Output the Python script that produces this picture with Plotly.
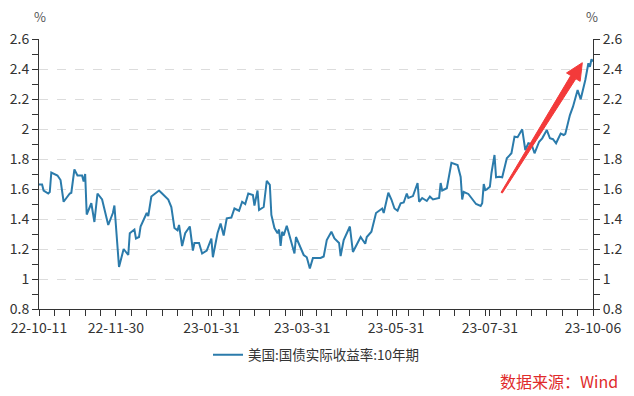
import pandas as pd
import plotly.graph_objects as go

start_date = "2022-10-11"
# day offsets from start date and 10Y real yield (%)
day_offsets = [0, 2, 3, 6, 7, 8, 12, 14, 16, 20, 21, 23, 25, 28, 29, 30, 31, 34, 36, 38,
               41, 44, 45, 48, 49, 52, 55, 58, 59, 62, 63, 65, 66, 70, 71, 73, 78, 80, 84, 86,
               88, 90, 91, 93, 95, 98, 100, 101, 104, 106, 109, 112, 113, 116, 118, 120, 122, 125, 127, 130,
               132, 134, 136, 139, 140, 142, 143, 146, 148, 150, 151, 153, 155, 156, 157, 158, 159, 161, 163, 164,
               166, 167, 170, 172, 174, 176, 178, 183, 185, 186, 187, 190, 192, 195, 196, 198, 202, 204, 209, 210,
               212, 213, 216, 219, 222, 223, 224, 227, 229, 231, 233, 235, 237, 239, 240, 243, 246, 247, 249, 252,
               254, 256, 260, 261, 262, 265, 268, 270, 272, 274, 275, 276, 279, 281, 284, 287, 288, 289, 290, 291,
               293, 294, 296, 297, 299, 301, 304, 307, 309, 311, 314, 316, 318, 320, 322, 325, 327, 330, 332, 334,
               336, 339, 341, 342, 344, 345, 347, 350, 352, 355, 357, 358, 359, 360]
real_yield = [1.63, 1.63, 1.59, 1.57, 1.58, 1.71, 1.69, 1.66, 1.515, 1.57, 1.575, 1.73, 1.69, 1.69, 1.65, 1.70, 1.43, 1.505, 1.38, 1.57,
              1.53, 1.39, 1.36, 1.44, 1.49, 1.08, 1.20, 1.16, 1.305, 1.33, 1.27, 1.28, 1.35, 1.44, 1.42, 1.55, 1.59, 1.57, 1.53, 1.48,
              1.34, 1.325, 1.36, 1.22, 1.305, 1.35, 1.19, 1.24, 1.24, 1.17, 1.19, 1.27, 1.145, 1.305, 1.37, 1.29, 1.405, 1.41, 1.47, 1.455,
              1.515, 1.50, 1.57, 1.56, 1.49, 1.59, 1.46, 1.48, 1.655, 1.627, 1.427, 1.34, 1.305, 1.33, 1.22, 1.315, 1.29, 1.355, 1.28, 1.24,
              1.17, 1.28, 1.205, 1.16, 1.145, 1.07, 1.14, 1.14, 1.15, 1.215, 1.26, 1.315, 1.27, 1.24, 1.153, 1.26, 1.35, 1.18, 1.28, 1.265,
              1.235, 1.28, 1.315, 1.44, 1.465, 1.47, 1.44, 1.575, 1.53, 1.47, 1.455, 1.505, 1.51, 1.57, 1.54, 1.553, 1.64, 1.515, 1.54, 1.52,
              1.55, 1.53, 1.54, 1.64, 1.59, 1.605, 1.775, 1.77, 1.76, 1.68, 1.53, 1.58, 1.567, 1.54, 1.50, 1.487, 1.505, 1.633, 1.593, 1.598,
              1.615, 1.705, 1.827, 1.678, 1.682, 1.678, 1.805, 1.838, 1.949, 1.945, 1.998, 1.86, 1.905, 1.90, 1.838, 1.915, 1.938, 1.993, 1.938, 1.932,
              1.905, 1.97, 1.96, 1.967, 2.06, 2.093, 2.149, 2.26, 2.198, 2.327, 2.438, 2.415, 2.465, 2.45]

x_label_dates = ["2022-10-11", "2022-11-30", "2023-01-31", "2023-03-31", "2023-05-31", "2023-07-31", "2023-10-06"]
x_label_text = ["22-10-11", "22-11-30", "23-01-31", "23-03-31", "23-05-31", "23-07-31", "23-10-06"]
y_ticks = [0.8, 1.0, 1.2, 1.4, 1.6, 1.8, 2.0, 2.2, 2.4, 2.6]
y_tick_text = ["0.8", "1", "1.2", "1.4", "1.6", "1.8", "2", "2.2", "2.4", "2.6"]
series_name = "美国:国债实际收益率:10年期"
source_text = "数据来源：Wind"

dates = pd.Timestamp(start_date) + pd.to_timedelta(day_offsets, unit="D")

FONT = "Noto Sans CJK SC, Noto Sans, sans-serif"
LINE_COLOR = "#2b7bab"
AXIS_COLOR = "#333333"

fig = go.Figure()
fig.add_trace(go.Scatter(x=dates, y=real_yield, mode="lines", name=series_name,
                         line=dict(color=LINE_COLOR, width=2)))
fig.add_trace(go.Scatter(x=dates, y=real_yield, mode="lines", yaxis="y2", showlegend=False,
                         line=dict(color=LINE_COLOR, width=2), opacity=0, hoverinfo="skip"))

yaxis_common = dict(range=[0.8, 2.6], tickvals=y_ticks, ticktext=y_tick_text,
                    showline=True, linecolor=AXIS_COLOR, linewidth=1,
                    ticks="outside", ticklen=6, tickcolor=AXIS_COLOR,
                    minor=dict(dtick=0.1, tick0=0.8, ticks="outside", ticklen=6, tickcolor=AXIS_COLOR, showgrid=False),
                    tickfont=dict(family=FONT, size=14, color="#333333"),
                    zeroline=False, fixedrange=True)

# page body has an 8px margin: compensate so the plot area sits at x 39..593, y 39..309
fig.update_layout(
    width=626, height=388,
    margin=dict(l=31, r=41, t=31, b=87, autoexpand=False),
    paper_bgcolor="white", plot_bgcolor="white",
    font=dict(family=FONT, size=12, color="#333333"),
    xaxis=dict(type="date", range=[pd.Timestamp(start_date), dates[-1]],
               tickvals=pd.to_datetime(x_label_dates), ticktext=x_label_text,
               showline=True, linecolor=AXIS_COLOR, linewidth=1,
               ticks="outside", ticklen=6, tickcolor=AXIS_COLOR,
               minor=dict(dtick=10 * 86400000, tick0=start_date, ticks="outside", ticklen=6,
                          tickcolor=AXIS_COLOR, showgrid=False),
               showgrid=False, tickfont=dict(family=FONT, size=14, color="#333333"),
               zeroline=False),
    yaxis=dict(**yaxis_common, side="left", showgrid=True, gridcolor="#dcdcdc",
               griddash="dash", gridwidth=1),
    yaxis2=dict(**yaxis_common, side="right", overlaying="y", showgrid=False),
    showlegend=True,
    legend=dict(orientation="h", x=0.5, xanchor="center", y=-0.17, yanchor="middle",
                font=dict(family=FONT, size=13.5, color="#333333"), bgcolor="rgba(0,0,0,0)"),
)

fig.add_annotation(text="%", xref="paper", yref="paper", x=0.002, y=1.0815,
                   xanchor="center", yanchor="middle",
                   showarrow=False, font=dict(family=FONT, size=13, color="#555555"))
fig.add_annotation(text="%", xref="paper", yref="paper", x=0.998, y=1.0815,
                   xanchor="center", yanchor="middle",
                   showarrow=False, font=dict(family=FONT, size=13, color="#555555"))
fig.add_annotation(text=source_text, xref="paper", yref="paper", x=1.0487, y=-0.2667,
                   xanchor="right", yanchor="middle", showarrow=False,
                   font=dict(family=FONT, size=16, color="#e02b2b"))

# red trend arrow (decoration)
arrow_path = ("M 0.8363,0.4293 L 0.9691,0.8529 L 0.9768,0.8431 L 0.9807,0.9122 "
              "L 0.9522,0.8743 L 0.9599,0.8646 L 0.8341,0.4322 Z")
fig.add_shape(type="path", path=arrow_path, xref="paper", yref="paper",
              fillcolor="#f33a3a", line=dict(color="#f33a3a", width=1), layer="above")

fig.write_html("out.html")
